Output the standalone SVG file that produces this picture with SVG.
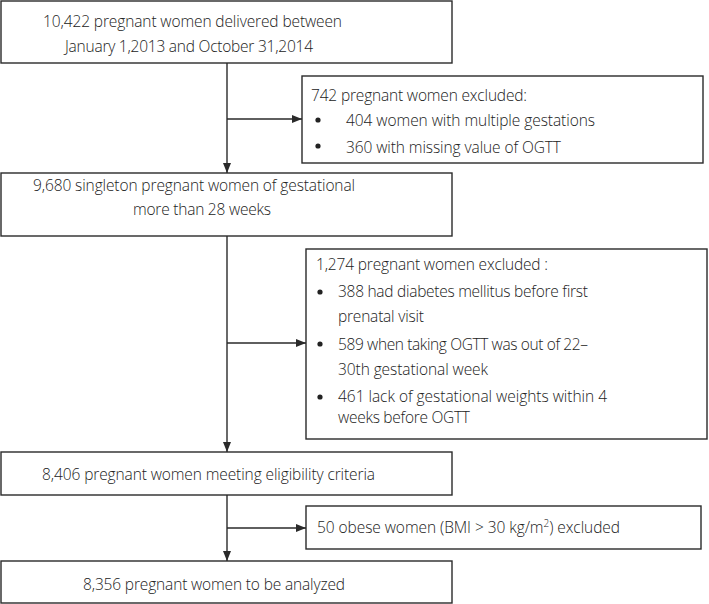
<svg xmlns="http://www.w3.org/2000/svg" width="709" height="604" viewBox="0 0 709 604">
<style>
.box{fill:#fff;stroke:#2a2a2a;stroke-width:1.4}
.t{font-family:"Open Sans","Noto Sans","Liberation Sans",sans-serif;font-size:15.5px;font-weight:300;fill:#222}
.c{fill:none;stroke:#2a2a2a;stroke-width:1.4}
.b{fill:#222}
</style>
<defs>
<marker id="ah" markerUnits="userSpaceOnUse" markerWidth="10" markerHeight="10" refX="10" refY="5" orient="auto">
<path d="M0,1 L10,5 L0,9 z" fill="#2a2a2a"/>
</marker>
</defs>
<rect width="709" height="604" fill="#fff"/>
<g id="connectors">
<line class="c" x1="227" y1="63" x2="227" y2="173" marker-end="url(#ah)"/>
<line class="c" x1="227" y1="119" x2="302" y2="119" marker-end="url(#ah)"/>
<line class="c" x1="227" y1="236" x2="227" y2="452" marker-end="url(#ah)"/>
<line class="c" x1="227" y1="343" x2="306" y2="343" marker-end="url(#ah)"/>
<line class="c" x1="227" y1="495" x2="227" y2="561" marker-end="url(#ah)"/>
<line class="c" x1="227" y1="528" x2="306" y2="528" marker-end="url(#ah)"/>
</g>
<g id="n1">
<rect class="box" x="1" y="1" width="451" height="62"/>
<text class="t" x="43" y="27" textLength="299">10,422 pregnant women delivered between</text>
<text class="t" x="65" y="52" textLength="248">January 1,2013 and October 31,2014</text>
</g>
<g id="n2">
<rect class="box" x="302" y="76" width="401" height="87"/>
<text class="t" x="311" y="101" textLength="216">742 pregnant women excluded:</text>
<circle class="b" cx="318" cy="120" r="2.6"/>
<text class="t" x="346" y="126" textLength="249">404 women with multiple gestations</text>
<circle class="b" cx="318" cy="146" r="2.6"/>
<text class="t" x="346" y="153" textLength="215">360 with missing value of OGTT</text>
</g>
<g id="n3">
<rect class="box" x="1" y="173" width="451" height="63"/>
<text class="t" x="33" y="191" textLength="322">9,680 singleton pregnant women of gestational</text>
<text class="t" x="133" y="215" textLength="138">more than 28 weeks</text>
</g>
<g id="n4">
<rect class="box" x="306" y="249" width="401" height="190"/>
<text class="t" x="316" y="270" textLength="232">1,274 pregnant women excluded :</text>
<circle class="b" cx="320" cy="292" r="2.6"/>
<text class="t" x="338" y="297" textLength="250">388 had diabetes mellitus before first</text>
<text class="t" x="338" y="322" textLength="86">prenatal visit</text>
<circle class="b" cx="320" cy="344" r="2.6"/>
<text class="t" x="338" y="350" textLength="250">589 when taking OGTT was out of 22–</text>
<text class="t" x="338" y="375" textLength="150">30th gestational week</text>
<circle class="b" cx="320" cy="397" r="2.6"/>
<text class="t" x="338" y="402" textLength="269">461 lack of gestational weights within 4</text>
<text class="t" x="338" y="423" textLength="132">weeks before OGTT</text>
</g>
<g id="n5">
<rect class="box" x="1" y="452" width="451" height="43"/>
<text class="t" x="42" y="480" textLength="333">8,406 pregnant women meeting eligibility criteria</text>
</g>
<g id="n6">
<rect class="box" x="306" y="506" width="395" height="43"/>
<text class="t" x="317" y="533" textLength="303">50 obese women (BMI &gt; 30 kg/m<tspan font-size="10" dy="-6">2</tspan><tspan dy="6">) excluded</tspan></text>
</g>
<g id="n7">
<rect class="box" x="1" y="561" width="451" height="42"/>
<text class="t" x="83" y="590" textLength="262">8,356 pregnant women to be analyzed</text>
</g>
</svg>
